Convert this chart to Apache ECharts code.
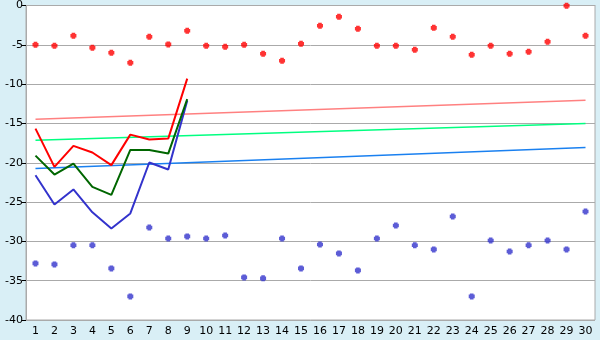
<!DOCTYPE html>
<html><head><meta charset="utf-8">
<script src="https://cdn.jsdelivr.net/npm/echarts@6/dist/echarts.min.js"></script>
<style>html,body{margin:0;padding:0;background:#d9eff6}#c{width:600px;height:340px}</style>
</head><body><div id="c"></div>
<script>
var categories = [];
for (var i = 1; i <= 30; i++) categories.push(String(i));
var redPoints = [-5.0,-5.12,-3.85,-5.38,-6.0,-7.28,-3.98,-4.95,-3.22,-5.12,-5.25,-5.0,-6.14,-7.03,-4.87,-2.58,-1.44,-2.96,-5.12,-5.12,-5.63,-2.84,-3.98,-6.27,-5.12,-6.14,-5.88,-4.61,-0.04,-3.85];
var bluePoints = [-32.8,-32.93,-30.5,-30.5,-33.44,-37.0,-28.23,-29.63,-29.37,-29.63,-29.25,-34.58,-34.7,-29.63,-33.44,-30.39,-31.53,-33.69,-29.63,-27.98,-30.5,-31.02,-26.83,-37.0,-29.88,-31.28,-30.5,-29.88,-31.02,-26.2];
var redLine = [-15.66,-20.53,-17.86,-18.7,-20.3,-16.42,-17.05,-16.93,-9.3];
var greenLine = [-19.09,-21.5,-20.1,-23.07,-24.08,-18.37,-18.37,-18.83,-11.9];
var blueLine = [-21.59,-25.3,-23.4,-26.3,-28.36,-26.45,-19.97,-20.86,-12.1];
var pinkTrendEnds = [-14.48, -12.06];
var greenTrendEnds = [-17.14, -15.02];
var blueTrendEnds = [-20.74, -18.07];

function ends(e){ var a = new Array(categories.length).fill(null); a[0]=e[0]; a[a.length-1]=e[1]; return a; }
var marker = 'path://M1,0 H4 V1 H5 V4 H4 V5 H1 V4 H0 V1 H1 Z';

var chart = echarts.init(document.getElementById('c'), null, {renderer:'canvas'});
chart.setOption({
  backgroundColor: '#d9eff6',
  animation: false,
  textStyle: {fontFamily: 'DejaVu Sans'},
  grid: {left: 26, right: 5, top: 5, bottom: 20, show: true, backgroundColor: '#ffffff', borderColor: '#aaaaaa', borderWidth: 1},
  xAxis: {
    type: 'category', data: categories, boundaryGap: true,
    axisLine: {lineStyle: {color: '#aaaaaa'}},
    axisTick: {alignWithLabel: true, length: 5, lineStyle: {color: '#000'}},
    axisLabel: {color: '#000', fontSize: 11, margin: 6, interval: 0, fontFamily: 'DejaVu Sans'},
    splitLine: {show: false}
  },
  yAxis: {
    type: 'value', min: -40, max: 0, interval: 5,
    axisLine: {show: true, lineStyle: {color: '#aaaaaa'}},
    axisTick: {show: true, length: 4, lineStyle: {color: '#000'}},
    axisLabel: {color: '#000', fontSize: 11, margin: 3, fontFamily: 'DejaVu Sans'},
    splitLine: {lineStyle: {color: '#aaaaaa'}}
  },
  series: [
    {type:'line', data: ends(pinkTrendEnds), connectNulls:true, showSymbol:false, symbol:'none', lineStyle:{color:'#ff8080', width:1.5}},
    {type:'line', data: ends(greenTrendEnds), connectNulls:true, showSymbol:false, symbol:'none', lineStyle:{color:'#00ff80', width:1.5}},
    {type:'line', data: ends(blueTrendEnds), connectNulls:true, showSymbol:false, symbol:'none', lineStyle:{color:'#1a80f0', width:1.5}},
    {type:'line', data: blueLine, symbol:'none', lineStyle:{color:'#3333cc', width:2}},
    {type:'line', data: greenLine, symbol:'none', lineStyle:{color:'#006600', width:2}},
    {type:'line', data: redLine, symbol:'none', lineStyle:{color:'#ff0000', width:2}},
    {type:'scatter', data: redPoints, symbol: marker, symbolSize: 6, itemStyle:{color:'#ff0000'}},
    {type:'scatter', data: bluePoints, symbol: marker, symbolSize: 6, itemStyle:{color:'#3333cc'}}
  ]
});
</script></body></html>
